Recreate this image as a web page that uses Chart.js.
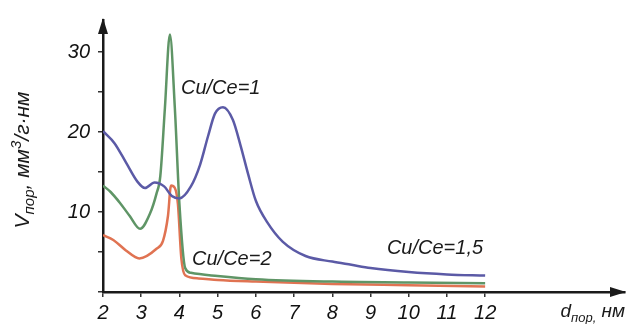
<!DOCTYPE html>
<html>
<head>
<meta charset="utf-8">
<script src="https://cdn.jsdelivr.net/npm/chart.js@4.4.1/dist/chart.umd.min.js"></script>
<style>
  html, body { margin: 0; padding: 0; background: #fff; }
  #wrap { width: 627px; height: 324px; position: relative; }
</style>
</head>
<body>
<div id="wrap"><canvas id="poreChart"></canvas></div>
<script>
// ---------------------------------------------
// данные (d пор, нм / V пор, мм3/г·нм)
// ---------------------------------------------
const dBlue  = [2, 2.3, 2.6, 2.9, 3.1, 3.35, 3.6, 3.8, 4.0, 4.3, 4.54, 4.75, 4.93, 5.14, 5.4, 5.6, 5.8, 6.0, 6.3, 6.7, 7.3, 8.0, 8.5, 9, 10, 11, 12];
const vBlue  = [20.1, 18.6, 16.2, 13.8, 13.0, 13.7, 13.2, 12.0, 11.7, 13.2, 15.9, 19.5, 22.3, 23.1, 21.5, 18.3, 14.7, 11.4, 8.7, 6.3, 4.5, 3.8, 3.4, 3.0, 2.5, 2.2, 2.05];

const dGreen = [2, 2.2, 2.45, 2.7, 2.97, 3.23, 3.4, 3.5, 3.62, 3.75, 3.88, 4.0, 4.15, 4.3, 5, 6, 8, 10, 12];
const vGreen = [13.3, 12.5, 11.1, 9.5, 7.9, 9.8, 12.3, 14.5, 23, 32.2, 23, 11, 3.0, 2.4, 2.0, 1.6, 1.3, 1.2, 1.1];

const dOrange = [2, 2.27, 2.6, 2.95, 3.4, 3.57, 3.7, 3.78, 3.88, 3.96, 4.05, 4.15, 4.5, 5, 6, 8, 10, 12];
const vOrange = [7.1, 6.5, 5.2, 4.2, 5.4, 6.4, 9.5, 13.3, 13.0, 11.0, 4.2, 2.1, 1.7, 1.5, 1.3, 1.0, 0.85, 0.7];

const xTicks = [2, 3, 4, 5, 6, 7, 8, 9, 10, 11, 12];
const yTicks = [0, 5, 10, 15, 20, 25, 30];
const yLabels = [10, 20, 30];

const seriesNames = ['Cu/Ce=1,5', 'Cu/Ce=1', 'Cu/Ce=2'];
const seriesColors = ['#5b5aa6', '#5f9566', '#e07352'];
// где стоят подписи кривых (в единицах осей)
const labelX = [9.43, 4.04, 4.33];
const labelY = [5.5, 25.5, 4.1];

const FONT = '"Liberation Sans", Arial, sans-serif';

const pts = (xs, ys) => xs.map((x, i) => ({ x, y: ys[i] }));

// подпись с индексами: [{t, sub|sup}]
function richWidth(ctx, parts, big, small) {
  let w = 0;
  parts.forEach(p => {
    ctx.font = `italic ${p.sub || p.sup ? small : big}px ${FONT}`;
    w += ctx.measureText(p.t).width;
  });
  return w;
}
function drawRich(ctx, parts, x, y, big, small) {
  parts.forEach(p => {
    ctx.font = `italic ${p.sub || p.sup ? small : big}px ${FONT}`;
    const dy = p.sub ? 5 : (p.sup ? -8 : 0);
    ctx.fillText(p.t, x, y + dy);
    x += ctx.measureText(p.t).width;
  });
}

const decor = {
  id: 'decor',
  afterDraw(chart) {
    const { ctx, chartArea: a, scales: { x, y } } = chart;
    ctx.save();
    ctx.fillStyle = '#1a1a1a';

    // стрелки осей
    ctx.beginPath();
    ctx.moveTo(a.left, a.top - 2);
    ctx.lineTo(a.left - 5, a.top + 14);
    ctx.lineTo(a.left + 5, a.top + 14);
    ctx.closePath();
    ctx.fill();
    ctx.beginPath();
    ctx.moveTo(a.right + 1, a.bottom);
    ctx.lineTo(a.right - 15, a.bottom - 5);
    ctx.lineTo(a.right - 15, a.bottom + 5);
    ctx.closePath();
    ctx.fill();

    // подписи кривых
    ctx.textBaseline = 'middle';
    ctx.textAlign = 'left';
    ctx.font = `italic 20px ${FONT}`;
    seriesNames.forEach((n, i) => {
      ctx.fillText(n, x.getPixelForValue(labelX[i]), y.getPixelForValue(labelY[i]));
    });

    // название оси X
    ctx.textBaseline = 'alphabetic';
    const xt = [{ t: 'd' }, { t: 'пор,', sub: true }, { t: ' нм' }];
    const xw = richWidth(ctx, xt, 19, 13);
    drawRich(ctx, xt, a.right - xw, 317, 19, 13);

    // название оси Y
    const yt = [{ t: 'V' }, { t: 'пор', sub: true }, { t: ', мм' }, { t: '3', sup: true }, { t: '/г·нм' }];
    const yw = richWidth(ctx, yt, 21, 15);
    ctx.translate(29, 160);
    ctx.rotate(-Math.PI / 2);
    drawRich(ctx, yt, -yw / 2, 0, 21, 15);
    ctx.restore();
  }
};

const ctx = document.getElementById('poreChart');
new Chart(ctx, {
  type: 'line',
  data: {
    datasets: [
      { label: seriesNames[0], data: pts(dBlue, vBlue),   borderColor: seriesColors[0] },
      { label: seriesNames[1], data: pts(dGreen, vGreen), borderColor: seriesColors[1] },
      { label: seriesNames[2], data: pts(dOrange, vOrange), borderColor: seriesColors[2] }
    ]
  },
  options: {
    responsive: true,
    maintainAspectRatio: false,
    animation: false,
    layout: { padding: { top: 10, right: 2, left: 0, bottom: 0 } },
    elements: {
      point: { radius: 0 },
      line: { borderWidth: 2.5, cubicInterpolationMode: 'monotone', fill: false }
    },
    plugins: { legend: { display: false }, tooltip: { enabled: false } },
    scales: {
      x: {
        type: 'linear',
        min: 2,
        max: 15.66,
        afterFit: s => { s.height = 32; },
        afterBuildTicks: s => { s.ticks = xTicks.map(v => ({ value: v })); },
        grid: { display: true, drawOnChartArea: false, tickLength: 5, color: '#333', lineWidth: 1.5 },
        border: { display: true, color: '#1a1a1a', width: 2.5 },
        ticks: {
          color: '#111',
          padding: 4,
          maxRotation: 0,
          autoSkip: false,
          font: { family: FONT, size: 20, style: 'italic' }
        }
      },
      y: {
        min: 0,
        max: 34,
        afterFit: s => { s.width = 103; },
        afterBuildTicks: s => { s.ticks = yTicks.map(v => ({ value: v })); },
        grid: { display: true, drawOnChartArea: false, tickLength: 5, color: '#333', lineWidth: 1.5 },
        border: { display: true, color: '#1a1a1a', width: 2.5 },
        ticks: {
          color: '#111',
          padding: 8,
          autoSkip: false,
          callback: v => yLabels.includes(v) ? String(v) : '',
          font: { family: FONT, size: 20, style: 'italic' }
        }
      }
    }
  },
  plugins: [decor]
});
</script>
</body>
</html>
